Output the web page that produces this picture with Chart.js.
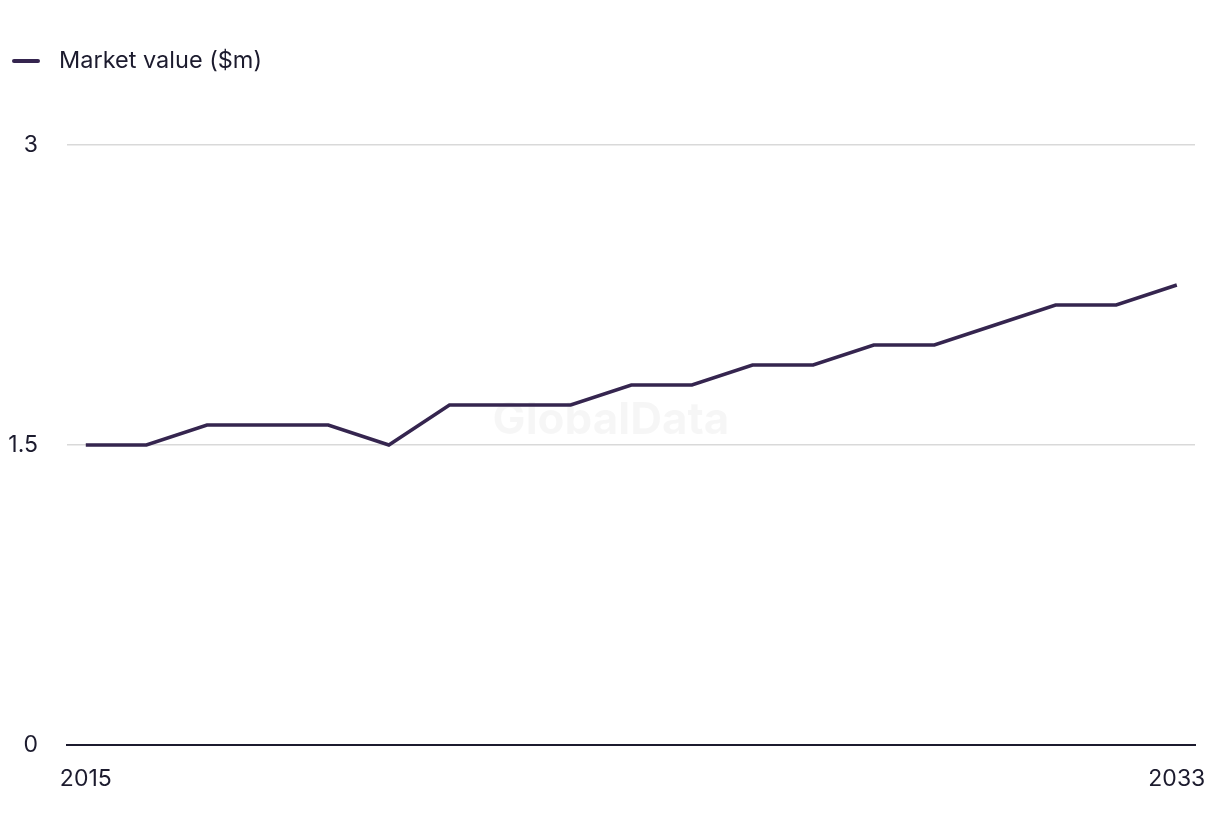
<!DOCTYPE html>
<html>
<head>
<meta charset="utf-8">
<script src="https://cdn.jsdelivr.net/npm/chart.js@4/dist/chart.umd.min.js"></script>
<style>
  html, body { margin: 0; padding: 0; background: #fff; }
  #wrap { width: 1220px; height: 836px; position: relative; }
</style>
</head>
<body>
<div id="wrap"><canvas id="marketChart" width="1220" height="836"></canvas></div>
<script>
const years = [2015, 2016, 2017, 2018, 2019, 2020, 2021, 2022, 2023, 2024,
  2025, 2026, 2027, 2028, 2029, 2030, 2031, 2032, 2033];
const marketValue = [1.5, 1.5, 1.6, 1.6, 1.6, 1.5, 1.7, 1.7, 1.7, 1.8,
  1.8, 1.9, 1.9, 2.0, 2.0, 2.1, 2.2, 2.2, 2.3];
const yTicks = [0, 1.5, 3];
const xTicks = [2015, 2033];

const textColor = '#1c1b2e';
const lineColor = '#35254f';
const gridColor = '#d9d9d9';
const fontFamily = 'Inter, "Open Sans", sans-serif';

// faint watermark behind the line
const watermark = {
  id: 'watermark',
  beforeDatasetsDraw(chart) {
    const { ctx, chartArea } = chart;
    ctx.save();
    ctx.font = 'bold 44px ' + fontFamily;
    ctx.fillStyle = 'rgba(0,0,0,0.035)';
    ctx.textAlign = 'center';
    ctx.textBaseline = 'middle';
    ctx.fillText('GlobalData', (chartArea.left + chartArea.right) / 2 - 20, 421);
    ctx.restore();
  }
};

// simple legend: short line + label, top left
const topLegend = {
  id: 'topLegend',
  afterDraw(chart) {
    const { ctx } = chart;
    const ds = chart.data.datasets[0];
    ctx.save();
    ctx.strokeStyle = ds.borderColor;
    ctx.lineWidth = 4;
    ctx.lineCap = 'round';
    ctx.beginPath();
    ctx.moveTo(14, 61);
    ctx.lineTo(38, 61);
    ctx.stroke();
    ctx.font = '23.5px ' + fontFamily;
    ctx.fillStyle = textColor;
    ctx.textBaseline = 'middle';
    ctx.fillText(ds.label, 59, 61);
    ctx.restore();
  }
};

new Chart(document.getElementById('marketChart').getContext('2d'), {
  type: 'line',
  data: {
    datasets: [{
      label: 'Market value ($m)',
      data: years.map((y, i) => ({ x: y, y: marketValue[i] })),
      borderColor: lineColor,
      backgroundColor: lineColor,
      borderWidth: 3.5,
      pointRadius: 0,
      tension: 0
    }]
  },
  options: {
    responsive: false,
    animation: false,
    layout: { padding: { left: 0, right: 25, top: 145, bottom: 0 } },
    plugins: {
      legend: { display: false },
      tooltip: { enabled: false }
    },
    scales: {
      x: {
        type: 'linear',
        min: 2014.69,
        max: 2033.3,
        afterBuildTicks: axis => { axis.ticks = xTicks.map(v => ({ value: v })); },
        afterFit: axis => { axis.height = 91; axis.paddingLeft = 0; axis.paddingRight = 0; },
        grid: { display: false, drawTicks: false },
        border: { display: true, color: textColor, width: 2 },
        ticks: {
          color: textColor,
          padding: 20,
          maxRotation: 0,
          font: { family: fontFamily, size: 23 },
          callback: v => String(v)
        }
      },
      y: {
        min: 0,
        max: 3,
        afterBuildTicks: axis => { axis.ticks = yTicks.map(v => ({ value: v })); },
        afterFit: axis => { axis.width = 67; },
        grid: { color: gridColor, lineWidth: 1.5, drawTicks: false },
        border: { display: false },
        ticks: {
          color: textColor,
          padding: 29,
          font: { family: fontFamily, size: 23 },
          callback: v => String(v)
        }
      }
    }
  },
  plugins: [watermark, topLegend]
});
</script>
</body>
</html>
